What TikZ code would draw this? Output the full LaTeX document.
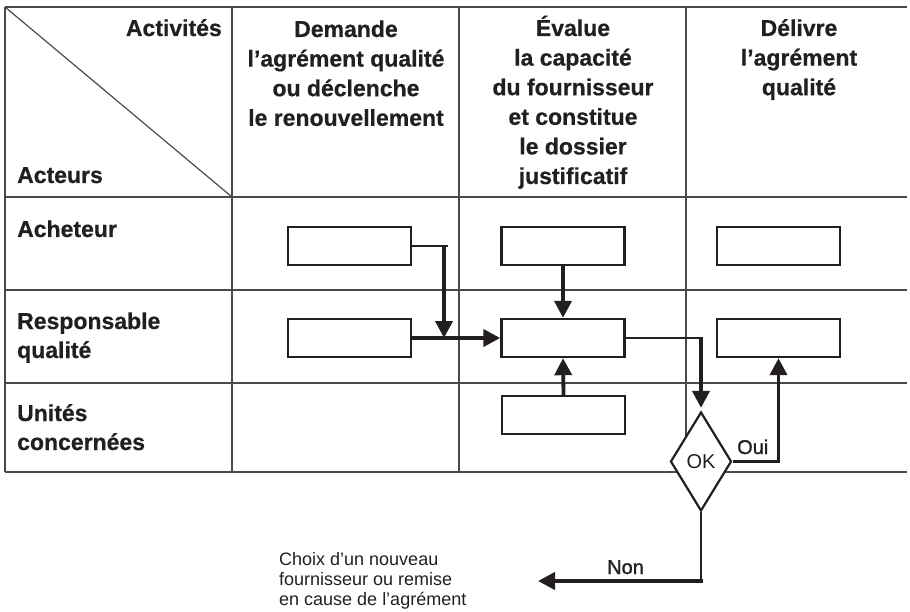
\documentclass[tikz,border=0pt]{standalone}
\usepackage{fontspec}
\setmainfont{Liberation Sans}[BoldFeatures={FakeBold=0.6}]
\newfontfamily\labelfont[FakeBold=1.2]{Liberation Sans}
\usetikzlibrary{arrows.meta,shapes.geometric}
\definecolor{ink}{HTML}{231F20}
\definecolor{rule}{HTML}{4A4A4A}
% column / row cells whose baseline is the first line
\newcommand\ccell[1]{\begin{tabular}[t]{@{}c@{}}#1\end{tabular}}
\newcommand\lcell[1]{\begin{tabular}[t]{@{}l@{}}#1\end{tabular}}

\begin{document}
\begin{tikzpicture}[x=1pt,y=-1pt,
  grid/.style={draw=rule,line width=1.2pt},
  stepbox/.style={draw=ink,line width=2.4pt,fill=white,minimum width=123pt,minimum height=38pt,inner sep=0pt},
  flow/.style={draw=ink,line width=3.8pt,-{Triangle[length=17pt,width=17pt]}},
  link/.style={draw=ink,line width=2.2pt},
  head/.style={font=\bfseries\fontsize{23}{29.6}\selectfont,text=ink,inner sep=0pt,anchor=base},
  actor/.style={font=\bfseries\fontsize{23}{29}\selectfont,text=ink,inner sep=0pt,anchor=base west},
  tag/.style={font=\labelfont\fontsize{20}{24}\selectfont,text=ink,inner sep=0pt,anchor=base west},
  note/.style={font=\fontsize{18}{20}\selectfont,text=ink,inner sep=0pt,anchor=base west},
  decision/.style={diamond,aspect=0.62,draw=ink,line width=2.2pt,fill=white,minimum width=61pt,minimum height=99pt,inner sep=0pt,font=\fontsize{20}{24}\selectfont,text=ink}
]
\useasboundingbox (0,0) rectangle (910,612);

% table rules
\draw[grid] (5,7) -- (907,7);
\draw[grid] (5,197) -- (907,197);
\draw[grid] (5,290) -- (907,290);
\draw[grid] (5,383) -- (907,383);
\draw[grid] (5,472) -- (907,472);
\draw[grid] (5,7) -- (5,472);
\draw[grid] (232,7) -- (232,472);
\draw[grid] (459,7) -- (459,472);
\draw[grid] (686,7) -- (686,472);
\draw[grid] (5,7) -- (232,197);

% header texts
\node[head,anchor=base east] (hact) at (222,36) {Activités};
\node[actor] (hacteurs) at (17,183) {Acteurs};
\node[head] (h1) at (346,37) {\ccell{Demande\\l’agrément qualité\\ou déclenche\\le renouvellement}};
\node[head] (h2) at (573,36) {\ccell{Évalue\\la capacité\\du fournisseur\\et constitue\\le dossier\\justificatif}};
\node[head] (h3) at (799,36) {\ccell{Délivre\\l’agrément\\qualité}};

% actors
\node[actor] (r1) at (17,237) {Acheteur};
\node[actor] (r2) at (17,329) {\lcell{Responsable\\qualité}};
\node[actor] (r3) at (17,421) {\lcell{Unités\\concernées}};

% activity boxes
\node[stepbox] (b11) at (349.5,246) {};
\node[stepbox] (b21) at (349.5,338) {};
\node[stepbox] (b12) at (563,246) {};
\node[stepbox] (b22) at (563,338) {};
\node[stepbox] (b32) at (563.5,415) {};
\node[stepbox] (b13) at (778.5,246) {};
\node[stepbox] (b23) at (778.5,338) {};

% decision
\node[decision] (ok) at (701,461.5) {OK};

% connectors
\coordinate (j1) at (444,246);
\coordinate (j1e) at (448,246);
\coordinate (j2t) at (701,336.5);
\coordinate (j3) at (701,581);
\coordinate (j3t) at (702.9,581);
\coordinate (nonend) at (538,581);

\draw[link] (b11.east) -- (j1e);
\draw[flow] (j1) -- (j1 |- b21.center);
\draw[flow] (b21.east) -- (b22.west);
\draw[flow] (b12.south) -- (b22.north);
\draw[flow] (b32.north) -- (b22.south);
\draw[link] (b22.east) -- (702.9,338);
\draw[flow,shorten >=3pt] (j2t) -- (ok.north);
\draw[flow] (ok.east) -| (b23.south);
\draw[link] (ok.south) -- (j3);
\draw[flow] (j3t) -- (nonend);

% branch labels
\node[tag] (oui) at (737,454) {Oui};
\node[tag] (non) at (607,574) {Non};

% outcome note
\node[note] (choix) at (279,565) {\lcell{Choix d’un nouveau\\fournisseur ou remise\\en cause de l’agrément}};
\end{tikzpicture}
\end{document}
